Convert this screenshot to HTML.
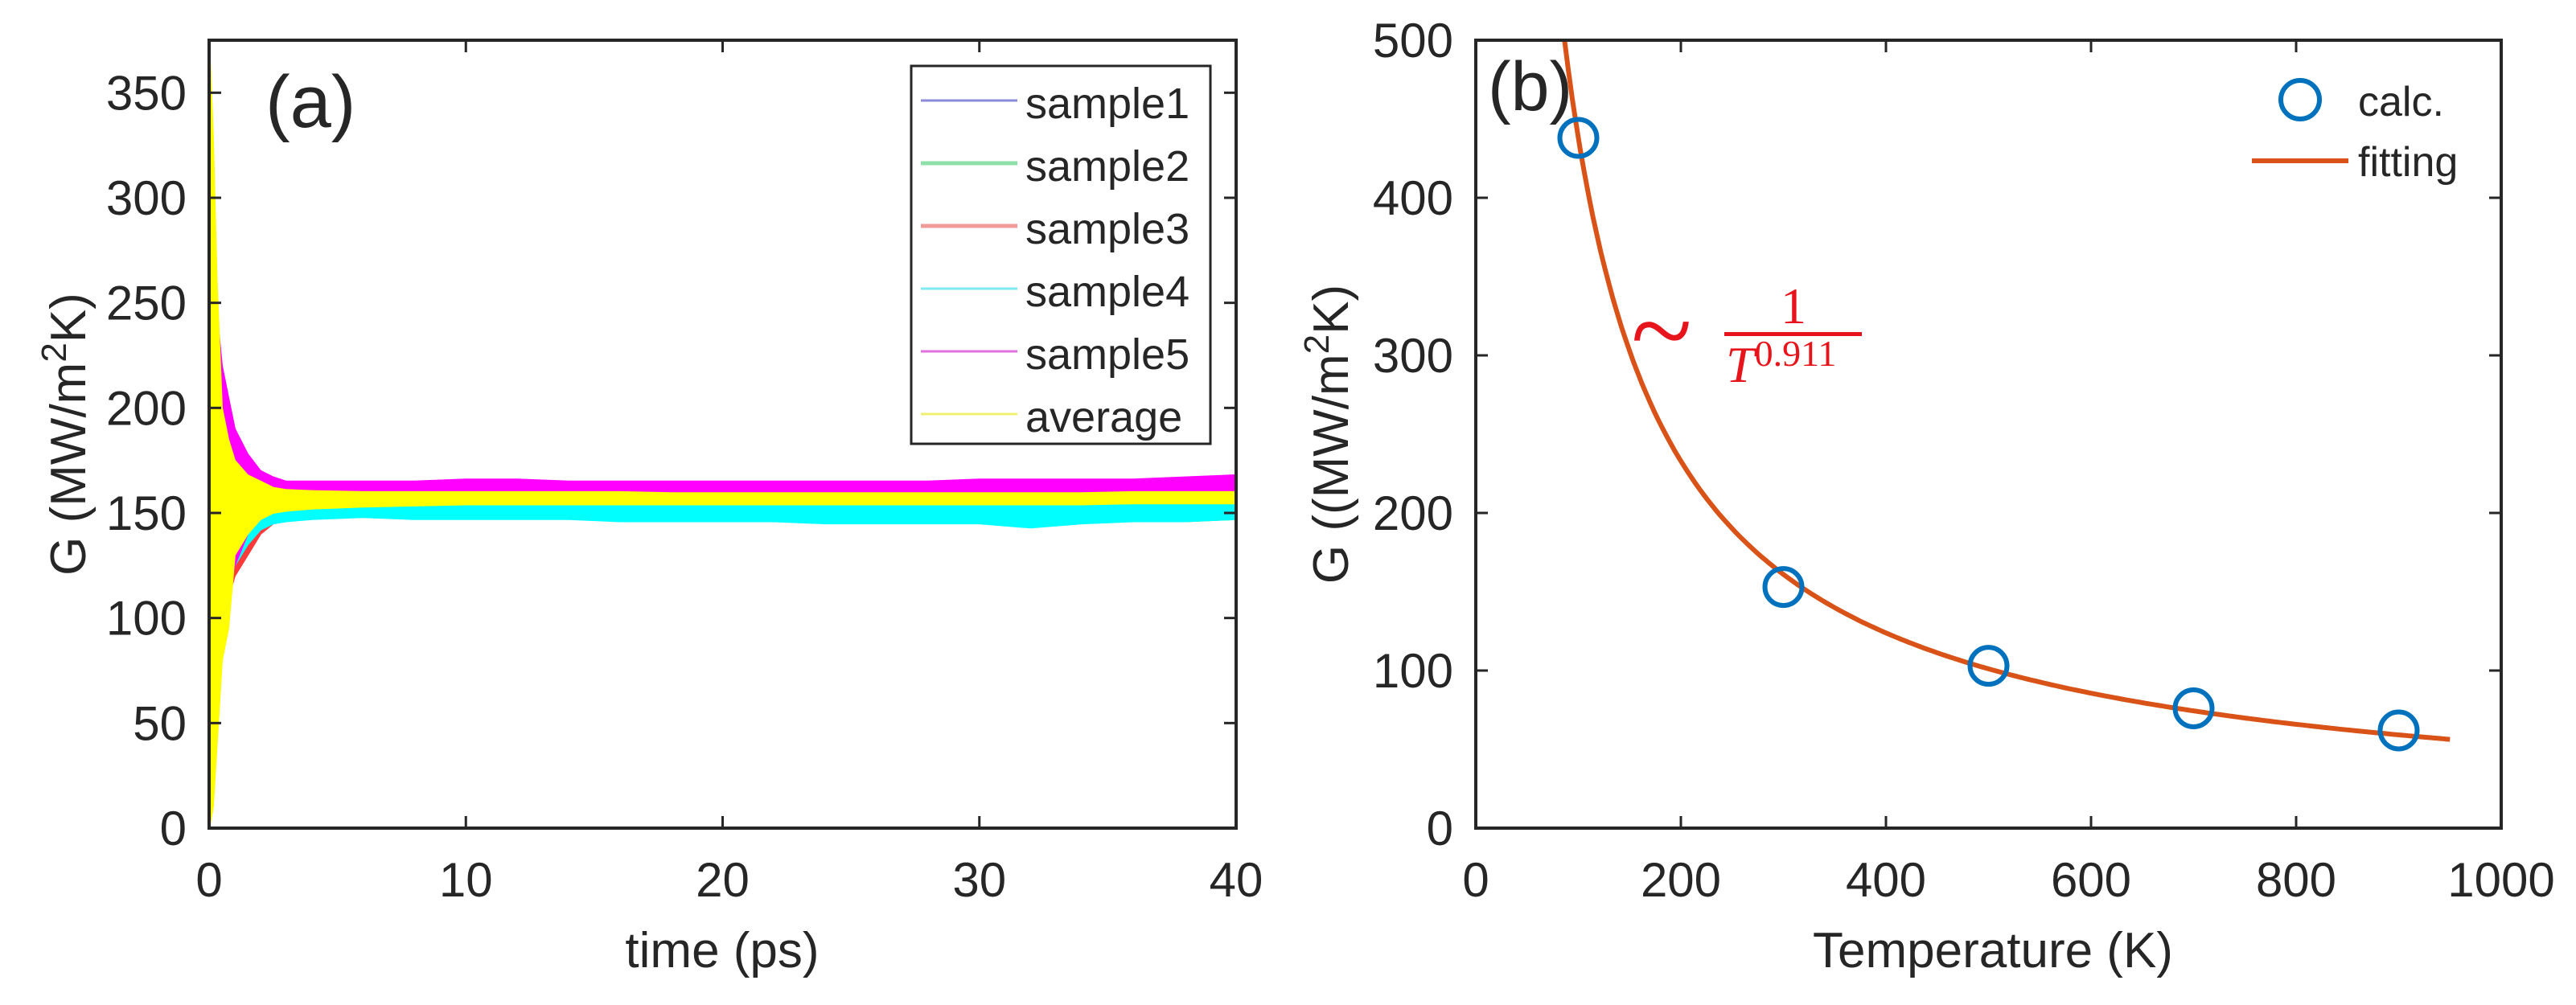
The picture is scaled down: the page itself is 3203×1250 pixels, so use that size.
<!DOCTYPE html>
<html><head><meta charset="utf-8"><style>
html,body{margin:0;padding:0;background:#fff;}
svg{display:block;}
text{font-family:"Liberation Sans",sans-serif;fill:#262626;}
</style></head><body>
<svg id="fig" width="3203" height="1250" viewBox="0 0 3203 1250" xmlns="http://www.w3.org/2000/svg">
<rect width="3203" height="1250" fill="#fff"/>
<g id="pa"></g>
<g id="pb"></g>
</svg>
<script>
// ---------- Panel (a) data ----------
const timesA = [0,0.15,0.3,0.5,0.75,1,1.5,2,2.5,3,4,6,8,10,12,14,16,18,20,22,24,26,28,30,32,34,36,38,40];
const s1Hi = [230,250,230,200,185,178,168,164,162,161,160,160,160,160,160,160,160,160,160,160,160,160,160,160,160,160,160,160,160];
const s1Lo = [30,40,70,100,115,125,135,142,146,148,149,150,149,148,149,149,149,149,149,149,149,149,149,149,149,149,149,149,149];
const s2Hi = [220,245,225,205,188,176,168,164,163,162,162,163,163,162,161,161,161,161,161,161,161,161,161,161,161,161,161,161,161];
const s2Lo = [35,45,75,95,112,124,136,143,146,148,149,150,150,149,149,149,148,148,148,148,148,148,148,148,148,148,147,146,147];
const s3Hi = [240,245,225,205,195,180,170,165,162,160,160,160,160,160,160,160,160,160,160,160,160,160,160,160,160,160,160,160,160];
const s3Lo = [30,45,80,105,110,120,130,140,145,147,150,151,150,150,151,151,151,151,151,151,151,151,151,151,151,151,151,150,150];
const s4Hi = [200,240,220,200,190,180,170,165,160,157,155,154,154,154,154,154,154,154,154,154,154,154,154,154,154,154,154,154,154];
const s4Lo = [40,40,70,100,115,125,135,142,145,146,147,148,147,147,147,147,146,146,146,146,145,145,145,145,143,145,146,146,147];
const s5Hi = [260,265,245,220,205,190,178,170,167,165,165,165,165,166,166,165,165,165,165,165,165,165,165,166,166,166,166,167,168];
const s5Lo = [30,30,60,90,110,125,140,150,154,156,157,158,158,159,159,159,158.5,158.5,159,159,159,159.5,159.5,159.5,159.5,159.5,159.5,160,160];
const avgHi = [375,330,260,200,185,175,168,165,162,161,160.5,160,160,160,160,160,160,159.5,159.5,159.5,159.5,159.5,159.5,159.5,159.5,159.5,160,160,160];
const avgLo = [0,10,40,80,95,130,140,147,150,151,152,153,153.5,154,154,154,154,154,154,154,154,154,154,154,154,154,154.5,154.5,154.5];
const seriesNamesA = ["sample1","sample2","sample3","sample4","sample5","average"];
const xTicksA = [0,10,20,30,40];
const yTicksA = [0,50,100,150,200,250,300,350];

// ---------- Panel (b) data ----------
const tempsCalc = [100,300,500,700,900];
const gCalc = [438,153,103,76,62];
const fitExponent = 0.911;
const fitRef = [100,438];
const fitRange = [86,950];
const xTicksB = [0,200,400,600,800,1000];
const yTicksB = [0,100,200,300,400,500];

const NS = "http://www.w3.org/2000/svg";
function mk(parent, tag, attrs){const e=document.createElementNS(NS,tag);for(const k in attrs)e.setAttribute(k,attrs[k]);parent.appendChild(e);return e;}

const A = {l:260,r:1537,t:50,b:1030,x0:0,x1:40,y0:0,y1:375};
const B = {l:1835,r:3110,t:50,b:1030,x0:0,x1:1000,y0:0,y1:500};
function sx(ax,v){return ax.l+(v-ax.x0)/(ax.x1-ax.x0)*(ax.r-ax.l);}
function sy(ax,v){return ax.b-(v-ax.y0)/(ax.y1-ax.y0)*(ax.b-ax.t);}

function drawAxes(g, ax, xt, yt, name){
  const tl=15;
  xt.forEach(v=>{
    const x=sx(ax,v);
    const t1=mk(g,'line',{x1:x,y1:ax.b,x2:x,y2:ax.b-tl,stroke:'#262626','stroke-width':3});
    
    
    const t2=mk(g,'line',{x1:x,y1:ax.t,x2:x,y2:ax.t+tl,stroke:'#262626','stroke-width':3});
    
    
    const tx=mk(g,'text',{x:x,y:1115,'font-size':60,'text-anchor':'middle'});
    tx.textContent=v;
    
    
  });
  yt.forEach(v=>{
    const y=sy(ax,v);
    const t1=mk(g,'line',{x1:ax.l,y1:y,x2:ax.l+tl,y2:y,stroke:'#262626','stroke-width':3});
    
    
    const t2=mk(g,'line',{x1:ax.r,y1:y,x2:ax.r-tl,y2:y,stroke:'#262626','stroke-width':3});
    
    
    const tx=mk(g,'text',{x:ax.l-28,y:y+21,'font-size':60,'text-anchor':'end'});
    tx.textContent=v;
    
    
  });
  const box=mk(g,'rect',{x:ax.l,y:ax.t,width:ax.r-ax.l,height:ax.b-ax.t,fill:'none',stroke:'#262626','stroke-width':4});
  
  
}

// ---------- Panel (a) ----------
const pa=document.getElementById('pa');
const clipA=mk(pa,'clipPath',{id:'clipA'});
mk(clipA,'rect',{x:A.l,y:A.t,width:A.r-A.l,height:A.b-A.t});
const colorsA=['#3a3aff','#1fe04a','#ff3a3a','#00ffff','#ff00ff','#ffff00'];
const legendColorsA=['#8a8ad8','#8fe0a8','#f09a9a','#80e8f0','#e070e0','#f0f070'];
const his=[s1Hi,s2Hi,s3Hi,s4Hi,s5Hi,avgHi], los=[s1Lo,s2Lo,s3Lo,s4Lo,s5Lo,avgLo];
const dataG=mk(pa,'g',{'clip-path':'url(#clipA)'});
for(let s=0;s<6;s++){
  let pts=[];
  for(let i=0;i<timesA.length;i++) pts.push(sx(A,timesA[i]).toFixed(1)+','+sy(A,his[s][i]).toFixed(1));
  for(let i=timesA.length-1;i>=0;i--) pts.push(sx(A,timesA[i]).toFixed(1)+','+sy(A,los[s][i]).toFixed(1));
  const p=mk(dataG,'polygon',{points:pts.join(' '),fill:colorsA[s],stroke:colorsA[s],'stroke-width':2,'stroke-linejoin':'round'});
  
  
}
drawAxes(pa,A,xTicksA,yTicksA,'panel-a');
const la=mk(pa,'text',{x:330,y:158,'font-size':92});
la.textContent='(a)';


const xa=mk(pa,'text',{x:898,y:1203,'font-size':62,'text-anchor':'middle'});
xa.textContent='time (ps)';


const ya=mk(pa,'text',{x:0,y:0,'font-size':62,'text-anchor':'middle',transform:'translate(106,540) rotate(-90)'});
ya.innerHTML='G (MW/m<tspan dy="-24" font-size="44">2</tspan><tspan dy="24">K)</tspan>';


const lg=mk(pa,'g',{});


mk(lg,'rect',{x:1133,y:82,width:372,height:470,fill:'#fff',stroke:'#262626','stroke-width':3});
for(let s=0;s<6;s++){
  const y=125+s*78;
  const ln=mk(lg,'line',{x1:1145,y1:y,x2:1265,y2:y,stroke:legendColorsA[s],'stroke-width':s==1||s==2?5:3});
  
  
  const tx=mk(lg,'text',{x:1275,y:y+22,'font-size':54});
  tx.textContent=seriesNamesA[s];
  
  
}

// ---------- Panel (b) ----------
const pb=document.getElementById('pb');
const clipB=mk(pb,'clipPath',{id:'clipB'});
mk(clipB,'rect',{x:B.l,y:B.t,width:B.r-B.l,height:B.b-B.t});
const fitG=mk(pb,'g',{'clip-path':'url(#clipB)'});
let fp=[];
for(let T=fitRange[0];T<=fitRange[1];T+=4){
  const G=fitRef[1]*Math.pow(fitRef[0]/T,fitExponent);
  fp.push(sx(B,T).toFixed(1)+','+sy(B,G).toFixed(1));
}
const fl=mk(fitG,'polyline',{points:fp.join(' '),fill:'none',stroke:'#D95319','stroke-width':6});


tempsCalc.forEach((T,i)=>{
  const c=mk(pb,'circle',{cx:sx(B,T),cy:sy(B,gCalc[i]),r:23,fill:'none',stroke:'#0072BD','stroke-width':6});
  
  
});
drawAxes(pb,B,xTicksB,yTicksB,'panel-b');
const lb=mk(pb,'text',{x:1850,y:137,'font-size':86});
lb.textContent='(b)';


const xb=mk(pb,'text',{x:2478,y:1203,'font-size':62,'text-anchor':'middle'});
xb.textContent='Temperature (K)';


const yb=mk(pb,'text',{x:0,y:0,'font-size':62,'text-anchor':'middle',transform:'translate(1676,540) rotate(-90)'});
yb.innerHTML='G ((MW/m<tspan dy="-24" font-size="44">2</tspan><tspan dy="24">K)</tspan>';


const lgb=mk(pb,'g',{});


const lc=mk(lgb,'circle',{cx:2860,cy:124,r:24,fill:'none',stroke:'#0072BD','stroke-width':6});


const lt1=mk(lgb,'text',{x:2932,y:144,'font-size':52});
lt1.textContent='calc.';


const ll=mk(lgb,'line',{x1:2800,y1:200,x2:2920,y2:200,stroke:'#D95319','stroke-width':6});


const lt2=mk(lgb,'text',{x:2932,y:219,'font-size':52});
lt2.textContent='fitting';


const ann=mk(pb,'g',{});


const tl=mk(ann,'text',{x:2066,y:458,'font-size':140,'text-anchor':'middle',style:'font-family:"Liberation Serif",serif;fill:#e8141c'});
tl.textContent='~';
mk(ann,'rect',{x:2144,y:413,width:171,height:5,fill:'#e8141c'});
const one=mk(ann,'text',{x:2230,y:402,'font-size':64,'text-anchor':'middle',style:'font-family:"Liberation Serif",serif;fill:#e8141c'});
one.textContent='1';
const tt=mk(ann,'text',{x:2146,y:475,'font-size':64,style:'font-family:"Liberation Serif",serif;font-style:italic;fill:#e8141c'});
tt.innerHTML='T<tspan dy="-20" font-size="46" font-style="normal">0.911</tspan>';
</script>
</body></html>
